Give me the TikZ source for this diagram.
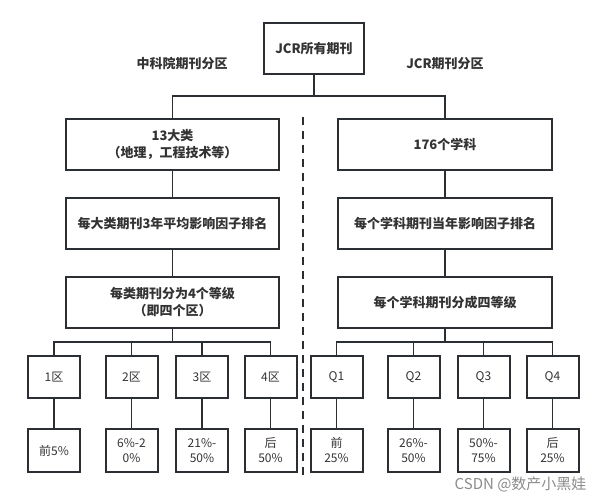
\documentclass[tikz,border=0pt]{standalone}
\usepackage{fontspec}
\setmainfont{Noto Sans CJK SC}
\definecolor{ink}{HTML}{2B2F33}
\definecolor{txt}{HTML}{333333}
\begin{document}
\begin{tikzpicture}[x=1pt,y=-1pt,
  box/.style={draw=ink,line width=2pt,fill=white,inner sep=0pt,align=center,text=txt},
  bigbox/.style={box,minimum width=213pt,minimum height=51pt,font=\bfseries\fontsize{13}{17}\selectfont},
  smallbox/.style={box,minimum width=52pt,minimum height=42pt,font=\fontsize{12}{15}\selectfont},
  pctbox/.style={box,minimum width=52pt,minimum height=43pt,font=\fontsize{12}{15}\selectfont},
  conn/.style={draw=ink,line width=1.6pt},
  lbl/.style={text=txt,font=\bfseries\fontsize{13}{16}\selectfont}]
\useasboundingbox (0,0) rectangle (606,503);
\fill[white] (0,0) rectangle (606,503);

\node[box,minimum width=100pt,minimum height=51pt,font=\bfseries\fontsize{13}{16}\selectfont] (top) at (314,48.5) {JCR所有期刊};
\node[lbl] (labL) at (182,64) {中科院期刊分区};
\node[lbl] (labR) at (445,64) {JCR期刊分区};

\node[bigbox] (L1) at (172.5,144.5) {13大类\\（地理，工程技术等）};
\node[bigbox] (L2) at (172.5,223.5) {每大类期刊3年平均影响因子排名};
\node[bigbox] (L3) at (172.5,302.5) {每类期刊分为4个等级\\（即四个区）};
\node[bigbox,minimum width=214pt] (R1) at (445,144.5) {176个学科};
\node[bigbox,minimum width=214pt] (R2) at (445,223.5) {每个学科期刊当年影响因子排名};
\node[bigbox,minimum width=214pt] (R3) at (445,302.5) {每个学科期刊分成四等级};

\node[smallbox] (a1) at (54,377) {1区};
\node[smallbox] (a2) at (131.5,377) {2区};
\node[smallbox] (a3) at (202,377) {3区};
\node[smallbox] (a4) at (270.5,377) {4区};
\node[smallbox] (b1) at (336.5,377) {Q1};
\node[smallbox] (b2) at (413.5,377) {Q2};
\node[smallbox] (b3) at (483.5,377) {Q3};
\node[smallbox] (b4) at (552.5,377) {Q4};

\node[pctbox] (p1) at (54,450.5) {前5\%};
\node[pctbox] (p2) at (131.5,450.5) {6\%-2\\0\%};
\node[pctbox] (p3) at (202,450.5) {21\%-\\50\%};
\node[pctbox] (p4) at (270.5,450.5) {后\\50\%};
\node[pctbox] (q1) at (336.5,450.5) {前\\25\%};
\node[pctbox] (q2) at (413.5,450.5) {26\%-\\50\%};
\node[pctbox] (q3) at (483.5,450.5) {50\%-\\75\%};
\node[pctbox] (q4) at (552.5,450.5) {后\\25\%};

\coordinate (bus0) at (314,96);
\coordinate (busL) at (172.5,342);
\coordinate (busR) at (445,342);
\coordinate (d1) at (303,117);
\coordinate (d2) at (303,476);

\begin{scope}[on background layer/.try]
\end{scope}
\path[conn] (top.south) -- (bus0) -| (L1.north);
\path[conn] (bus0) -| (R1.north);
\path[conn] (L1) -- (L2);
\path[conn] (L2) -- (L3);
\path[conn] (R1) -- (R2);
\path[conn] (R2) -- (R3);
\path[conn] (L3.south) -- (busL);
\path[conn] (R3.south) -- (busR);
\path[conn] (busL) -| (a1.north);
\path[conn] (busL) -| (a2.north);
\path[conn] (busL) -| (a3.north);
\path[conn] (busL) -| (a4.north);
\path[conn] (busR) -| (b1.north);
\path[conn] (busR) -| (b2.north);
\path[conn] (busR) -| (b3.north);
\path[conn] (busR) -| (b4.north);
\foreach \s/\t in {a1/p1,a2/p2,a3/p3,a4/p4,b1/q1,b2/q2,b3/q3,b4/q4}
  \path[conn] (\s) -- (\t);
\draw[ink,line width=2pt,dash pattern=on 8pt off 6pt] (d1) -- (d2);

\node[text=black!45,font=\fontsize{15}{18}\selectfont,anchor=east] (wm) at (590,484) {CSDN @数产小黑娃};
\end{tikzpicture}
\end{document}
